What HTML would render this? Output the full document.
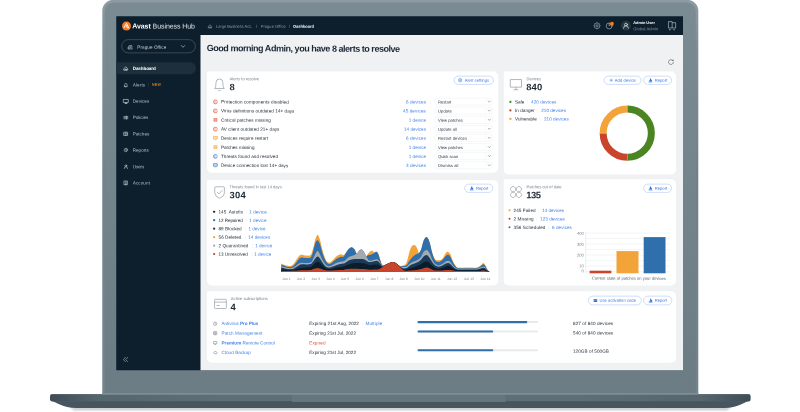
<!DOCTYPE html>
<html lang="en">
<head>
<meta charset="utf-8">
<title>Avast Business Hub</title>
<style>
html,body{margin:0;padding:0;background:#fff}
body{width:800px;height:412px;overflow:hidden;position:relative;font-family:"Liberation Sans",Arial,sans-serif}
#w{position:absolute;left:0;top:0;width:3200px;height:1648px;transform:scale(.25);transform-origin:0 0;overflow:hidden}
.b{position:absolute;box-sizing:border-box;display:block}
.t{position:absolute;white-space:nowrap;line-height:1;font-size:16.8px;transform:rotate(.25deg)}
.j{display:flex;justify-content:space-between;position:absolute}
.j span{display:block;white-space:nowrap;line-height:1;transform:rotate(.25deg)}
.t b{font-weight:700}
svg{overflow:visible}
</style>
</head>
<body>
<div id="w">
<svg class="b" style="left:0px;top:0px;width:3200px;height:1648px;" viewBox="0 0 800 412">
<defs>
<linearGradient id="lid" x1="0" y1="0" x2="0" y2="1"><stop offset="0" stop-color="#7b8b94"/><stop offset="1" stop-color="#6b7c85"/></linearGradient>
<linearGradient id="lide" x1="0" y1="0" x2="0" y2="1"><stop offset="0" stop-color="#8e9ba3"/><stop offset=".12" stop-color="#7e8d95"/><stop offset=".45" stop-color="#728189"/><stop offset="1" stop-color="#73838b"/></linearGradient>
<linearGradient id="base" x1="0" y1="0" x2="1" y2="0"><stop offset="0" stop-color="#3e4c55"/><stop offset=".07" stop-color="#56666f"/><stop offset=".25" stop-color="#5f6f78"/><stop offset=".75" stop-color="#5f6f78"/><stop offset=".93" stop-color="#56666f"/><stop offset="1" stop-color="#3e4c55"/></linearGradient>
<linearGradient id="sh" x1="0" y1="0" x2="0" y2="1"><stop offset="0" stop-color="#9aa3a8" stop-opacity=".75"/><stop offset="1" stop-color="#c8ccd0" stop-opacity="0"/></linearGradient>
<filter id="bl" x="-5%" y="-200%" width="110%" height="500%"><feGaussianBlur stdDeviation="1.2"/></filter>
</defs>
<path d="M70 407.4 H731 L727 410.2 H74 Z" fill="#7d878d" opacity=".5" filter="url(#bl)"/>
<path d="M102.3 394.5 V11 A11.2 11.2 0 0 1 113.5 -0.2 H687.1 A11.2 11.2 0 0 1 698.3 11 V394.5 Z" fill="url(#lide)"/>
<path d="M104.8 394.5 V11.3 A8.9 8.9 0 0 1 113.7 2.4 H686.9 A8.9 8.9 0 0 1 695.8 11.3 V394.5 Z" fill="url(#lid)"/>
<path d="M50.6 400 C56 402.6 63 407.6 76 408.1 H724.6 C737.6 407.6 744.6 402.6 750 400 Z" fill="#47555e"/>
<path d="M52.2 394.1 H748.4 Q750.6 394.1 750.6 396.3 V399.3 Q750.6 401.5 748.4 401.5 H52.2 Q50 401.5 50 399.3 V396.3 Q50 394.1 52.2 394.1 Z" fill="url(#base)"/>
<rect x="56" y="401" width="688.6" height="1.2" fill="#4a5962"/>
<rect x="292" y="394.6" width="213.5" height="7.4" fill="#66767f"/>
<rect x="102.3" y="393" width="596" height="1.7" fill="#7e8e96"/>
<rect x="51" y="394.1" width="698.6" height=".6" fill="#7e8e96" opacity=".5"/>
</svg>
<div class="b" style="left:464.8px;top:64.6px;width:2267.2px;height:1416.2px;background:#0d1e2c;"></div>
<div class="b" style="left:802px;top:140px;width:1930px;height:1340.8px;background:#eff1f3;"></div>
<svg class="b" style="left:487.6px;top:86px;width:36px;height:36px;" viewBox="0 0 9 9"><circle cx="4.5" cy="4.5" r="4.5" fill="#f47a20"/><path d="M4.4 1.7 L6.9 6.6 M3.6 3.1 L2.1 6.2 M4.3 4.0 L5.4 6.4" stroke="#fff" stroke-width="1.0" stroke-linecap="round" fill="none"/></svg>
<span class="t" id="t1" style="font-size:28px;top:91.16px;color:#fff;left:529.2px;letter-spacing:-0.28px;"><b>Avast</b> <span style="color:#dde2e6">Business Hub</span></span>
<div class="b" style="left:485.6px;top:158.4px;width:296.8px;height:53.2px;border-radius:28px;border:1.4px solid #c3cbd1;"></div>
<svg class="b" style="left:510.4px;top:176px;width:20px;height:22.4px;" viewBox="0 0 5 5.6"><path d="M1.6 5 V1.6 H4.4 V5 M0.6 5 V3 H1.6 M0.4 5 H4.8 M2.5 2.6 H3.5 M2.5 3.6 H3.5" stroke="#dfe4e8" stroke-width=".5" fill="none"/></svg>
<span class="t" id="t2" style="font-size:18.4px;top:179.84px;color:#cdd4da;left:549.2px;letter-spacing:0.32px;">Prague Office</span>
<svg class="b" style="left:722px;top:178.4px;width:20px;height:16px;" viewBox="0 0 5 4"><path d="M0.8 1 L2.5 2.8 L4.2 1" stroke="#dfe4e8" stroke-width=".55" fill="none" stroke-linecap="round" stroke-linejoin="round"/></svg>
<div class="b" style="left:464.8px;top:249.2px;width:319.2px;height:48px;background:#1e2f3c;border-radius:0 24px 24px 0;"></div>
<svg class="b" style="left:493.2px;top:263.4px;width:20.8px;height:20.8px;" viewBox="0 0 5 5"><g stroke="#e8ecef" stroke-width=".55" fill="none" stroke-linejoin="round" stroke-linecap="round"><path d="M0.8 2.6 L2.5 1 L4.2 2.6 V4.2 H0.8 Z M1.9 4.2 V3.2 H3.1 V4.2" /></g></svg>
<span class="t" id="t3" style="font-size:18.4px;top:265.24px;color:#fff;font-weight:700;left:530.8px;letter-spacing:-0.5px;">Dashboard</span>
<svg class="b" style="left:493.2px;top:328.8px;width:20.8px;height:20.8px;" viewBox="0 0 5 5"><g stroke="#c9d1d7" stroke-width=".55" fill="none" stroke-linejoin="round" stroke-linecap="round"><path d="M1.3 3.6 V2.4 A1.2 1.2 0 0 1 3.7 2.4 V3.6 L4 4 H1 Z M2.1 4.5 H2.9" /></g></svg>
<span class="t" id="t4" style="font-size:18.4px;top:330.64px;color:#b5bfc7;left:530.8px;letter-spacing:0.48px;">Alerts</span>
<svg class="b" style="left:491.6px;top:392.6px;width:24px;height:24px;" viewBox="0 0 5 5"><g stroke="#c9d1d7" stroke-width=".55" fill="none" stroke-linejoin="round" stroke-linecap="round"><path d="M0.6 1 H4.4 V3.5 H0.6 Z M1.7 4.4 H3.3 M2.5 3.5 V4.4" /></g></svg>
<span class="t" id="t5" style="font-size:18.4px;top:396.04px;color:#b5bfc7;left:530.8px;letter-spacing:0.07px;">Devices</span>
<svg class="b" style="left:493.2px;top:459.6px;width:20.8px;height:20.8px;" viewBox="0 0 5 5"><g stroke="#c9d1d7" stroke-width=".55" fill="none" stroke-linejoin="round" stroke-linecap="round"><path d="M0.6 1.4 H2.2 M0.6 2.5 H2.2 M0.6 3.6 H2.2 M3 1.4 H4.4 M3 2.5 H4.4 M3 3.6 H4.4 M3 1 V4" /></g></svg>
<span class="t" id="t6" style="font-size:18.4px;top:461.44px;color:#b5bfc7;left:530.8px;letter-spacing:-0.13px;">Policies</span>
<svg class="b" style="left:493.2px;top:525px;width:20.8px;height:20.8px;" viewBox="0 0 5 5"><g stroke="#c9d1d7" stroke-width=".55" fill="none" stroke-linejoin="round" stroke-linecap="round"><path d="M0.8 0.9 H4.2 V4.1 H0.8 Z M2.5 0.9 V4.1 M0.8 2.5 H4.2" /></g></svg>
<span class="t" id="t7" style="font-size:18.4px;top:526.84px;color:#b5bfc7;left:530.8px;letter-spacing:-0.08px;">Patches</span>
<svg class="b" style="left:493.2px;top:590.4px;width:20.8px;height:20.8px;" viewBox="0 0 5 5"><g stroke="#c9d1d7" stroke-width=".55" fill="none" stroke-linejoin="round" stroke-linecap="round"><path d="M2.5 2.5 V0.9 A1.6 1.6 0 1 0 4.1 2.5 Z M3.1 0.7 A1.5 1.5 0 0 1 4.3 1.9" /></g></svg>
<span class="t" id="t8" style="font-size:18.4px;top:592.24px;color:#b5bfc7;left:530.8px;letter-spacing:-0.01px;">Reports</span>
<svg class="b" style="left:493.2px;top:655.8px;width:20.8px;height:20.8px;" viewBox="0 0 5 5"><g stroke="#c9d1d7" stroke-width=".55" fill="none" stroke-linejoin="round" stroke-linecap="round"><circle cx="2.5" cy="1.7" r="0.9"/><path d="M0.9 4.4 A1.6 1.8 0 0 1 4.1 4.4" /></g></svg>
<span class="t" id="t9" style="font-size:18.4px;top:657.64px;color:#b5bfc7;left:530.8px;letter-spacing:-0.42px;">Users</span>
<svg class="b" style="left:493.2px;top:721.2px;width:20.8px;height:20.8px;" viewBox="0 0 5 5"><g stroke="#c9d1d7" stroke-width=".55" fill="none" stroke-linejoin="round" stroke-linecap="round"><path d="M1 0.7 H4 V4.3 H1 Z M1.9 1.7 H3.1 M1.9 2.7 H3.1 M2 4.3 V3.5 H3 V4.3" /></g></svg>
<span class="t" id="t10" style="font-size:18.4px;top:723.04px;color:#b5bfc7;left:530.8px;letter-spacing:0.38px;">Account</span>
<div class="b" style="left:594.8px;top:329.6px;width:1.4px;height:16.8px;background:#4a5a66;"></div>
<span class="t" id="t11" style="font-size:14px;top:330.96px;color:#f0801f;font-weight:700;left:608px;letter-spacing:1.09px;">NEW</span>
<svg class="b" style="left:491.2px;top:1427.2px;width:22.4px;height:22.4px;" viewBox="0 0 5.6 5.6"><path d="M2.6 0.6 L0.7 2.8 L2.6 5 M4.9 0.6 L3 2.8 L4.9 5" stroke="#b8c1c8" stroke-width=".55" fill="none" stroke-linecap="round" stroke-linejoin="round"/></svg>
<svg class="b" style="left:829.6px;top:94.8px;width:20px;height:20px;" viewBox="0 0 5 5"><path d="M0.8 2.6 L2.5 1 L4.2 2.6 V4.2 H0.8 Z M1.9 4.2 V3.2 H3.1 V4.2" stroke="#aab4bc" stroke-width=".5" fill="none" stroke-linejoin="round"/></svg>
<span class="t" id="t12" style="font-size:16px;top:97.92px;color:#93a0aa;left:864px;letter-spacing:0.01px;">Large Business Acc.</span>
<span class="t" id="t13" style="font-size:16px;top:97.92px;color:#93a0aa;left:1023.6px;">/</span>
<span class="t" id="t14" style="font-size:16px;top:97.92px;color:#93a0aa;left:1042.8px;letter-spacing:0.18px;">Prague Office</span>
<span class="t" id="t15" style="font-size:16px;top:97.92px;color:#93a0aa;left:1155.2px;">/</span>
<span class="t" id="t16" style="font-size:16px;top:97.92px;color:#fff;font-weight:700;left:1172.8px;letter-spacing:-0.14px;">Dashboard</span>
<svg class="b" style="left:2374.2px;top:89.4px;width:28px;height:28px;" viewBox="0 0 7 7"><g stroke="#c9d1d7" stroke-width=".5" fill="none" stroke-linejoin="round"><circle cx="3.5" cy="3.5" r="1.05" /><path d="M2.89 1.13 L3.08 0.38 L3.92 0.38 L4.11 1.13 L4.75 1.39 L5.41 1.00 L6.00 1.59 L5.61 2.25 L5.87 2.89 L6.62 3.08 L6.62 3.92 L5.87 4.11 L5.61 4.75 L6.00 5.41 L5.41 6.00 L4.75 5.61 L4.11 5.87 L3.92 6.62 L3.08 6.62 L2.89 5.87 L2.25 5.61 L1.59 6.00 L1.00 5.41 L1.39 4.75 L1.13 4.11 L0.38 3.92 L0.38 3.08 L1.13 2.89 L1.39 2.25 L1.00 1.59 L1.59 1.00 L2.25 1.39 Z"/></g></svg>
<svg class="b" style="left:2423.2px;top:87.2px;width:33.6px;height:32px;" viewBox="0 0 8.4 8"><g stroke="#c9d1d7" stroke-width=".55" fill="none" stroke-linecap="round"><circle cx="3.4" cy="4.2" r="2.95"/><path d="M3.4 1.6 V4.2 L5.3 2.4"/></g><circle cx="6.15" cy="2.0" r="1.95" fill="#f47a20"/></svg>
<svg class="b" style="left:2483.6px;top:82.6px;width:39.6px;height:39.6px;" viewBox="0 0 9.9 9.9"><circle cx="4.95" cy="4.95" r="4.95" fill="#26363f"/><g stroke="#e8ecef" stroke-width=".65" fill="none" stroke-linecap="round"><circle cx="4.95" cy="3.9" r="1.45"/><path d="M2.5 7.5 A2.45 2.6 0 0 1 7.4 7.5"/></g></svg>
<span class="t" id="t17" style="font-size:15.6px;top:83.32px;color:#fff;font-weight:700;left:2533.2px;letter-spacing:-0.08px;">Admin User</span>
<span class="t" id="t18" style="font-size:16.4px;top:107.32px;color:#85939e;left:2533.2px;letter-spacing:0.27px;">Global Admin</span>
<svg class="b" style="left:2671.2px;top:84px;width:33.6px;height:39.2px;" viewBox="0 0 8.4 9.8"><g stroke="#c9d1d7" stroke-width=".6" fill="none" stroke-linejoin="round"><path d="M0.7 0.6 H4.4 V7 H0.7 Z M4.4 1.7 H7.9 V7 H4.4"/></g><path d="M1.2 8.8 L2.2 8.1 V9.5 Z M7.2 8.8 L6.2 8.1 V9.5 Z" fill="#c9d1d7"/><path d="M2.2 8.8 H3.3 M5.1 8.8 H6.2" stroke="#c9d1d7" stroke-width=".45"/></svg>
<span class="t" id="t19" style="font-size:36px;top:175.72px;color:#1b2733;font-weight:700;left:826.8px;letter-spacing:-1.86px;">Good morning Admin, you have 8 alerts to resolve</span>
<svg class="b" style="left:2671.6px;top:235.6px;width:24px;height:24px;" viewBox="0 0 6 6"><path d="M4.9 1.5 A2.45 2.45 0 1 0 5.45 3.3" stroke="#4a5560" stroke-width=".6" fill="none" stroke-linecap="round"/><path d="M5.5 0.5 V2.1 H3.9 Z" fill="#4a5560"/></svg>
<div class="b" style="left:828.4px;top:286.4px;width:1164.4px;height:404.8px;background:#fff;border-radius:4px 19.2px 19.2px 19.2px;"></div>
<div class="b" style="left:2015.2px;top:286.4px;width:688.8px;height:411.2px;background:#fff;border-radius:4px 19.2px 19.2px 19.2px;"></div>
<div class="b" style="left:828.4px;top:720px;width:1164.4px;height:422px;background:#fff;border-radius:4px 19.2px 19.2px 19.2px;"></div>
<div class="b" style="left:2015.2px;top:716.8px;width:688.8px;height:425.2px;background:#fff;border-radius:4px 19.2px 19.2px 19.2px;"></div>
<div class="b" style="left:828.4px;top:1164.8px;width:1875.6px;height:286px;background:#fff;border-radius:4px 19.2px 19.2px 19.2px;"></div>
<svg class="b" style="left:855.2px;top:314.4px;width:45.6px;height:51.2px;" viewBox="0 0 11.4 12.8"><path d="M0.9 10 C2.6 8.4 1.9 5.6 2.3 4 A3.4 3.5 0 0 1 9.1 4 C9.5 5.6 8.8 8.4 10.5 10 Z M4.3 11.4 A1.5 1.2 0 0 0 7.1 11.4" stroke="#8a949c" stroke-width=".65" fill="none" stroke-linejoin="round"/></svg>
<span class="t" id="t20" style="font-size:16.4px;top:306.52px;color:#75818b;left:918px;letter-spacing:0.07px;">Alerts to resolve</span>
<span class="t" id="t21" style="font-size:37.6px;top:330.36px;color:#1b2733;font-weight:700;left:918px;letter-spacing:0.13px;">8</span>
<div class="b" style="left:1816px;top:304px;width:158.4px;height:34px;border-radius:20px;border:1.8px solid #3b7be6;"></div>
<svg class="b" style="left:1831.6px;top:312.4px;width:17.6px;height:17.6px;" viewBox="0 0 4.4 4.4"><g stroke="#2f6fdf" stroke-width=".5" fill="none"><circle cx="2.2" cy="2.2" r="1.7"/><circle cx="2.2" cy="2.2" r=".6"/></g></svg>
<span class="t" id="t22" style="font-size:16.4px;top:312.52px;color:#2f6fdf;left:1859.2px;letter-spacing:0.2px;">Alert settings</span>
<svg class="b" style="left:852.2px;top:397.6px;width:19.2px;height:19.2px;" viewBox="0 0 4.4 4.4"><circle cx="2.2" cy="2.2" r="1.75" fill="#e76a58" fill-opacity=".3" stroke="#e76a58" stroke-width=".7"/><path d="M2.2 2.2 L3.7 1.0 A1.9 1.9 0 0 1 3.8 3.3 Z" fill="#fff" fill-opacity=".55"/></svg>
<span class="t" id="t23" style="font-size:18.4px;top:398.84px;color:#1d2935;left:884px;letter-spacing:0.33px;">Protection components disabled</span>
<span class="t" id="t24" style="font-size:18.4px;top:398.84px;color:#3f7fe6;right:1496px;letter-spacing:0.29px;">6 devices</span>
<div class="b" style="left:1737.6px;top:391.8px;width:234.8px;height:29.2px;background:#fff;border-radius:16px;border:1.4px solid #d9dee3;"></div>
<div class="b" style="left:1941.2px;top:393px;width:1.2px;height:26.8px;background:#e6e9ec;"></div>
<span class="t" id="t25" style="font-size:16.4px;top:399.92px;color:#27323d;left:1752px;letter-spacing:0.04px;">Restart</span>
<svg class="b" style="left:1950px;top:401px;width:14.4px;height:11.2px;" viewBox="0 0 3.6 2.8"><path d="M.7 .75 L1.8 1.95 L2.9 .75" stroke="#5d6872" stroke-width=".5" fill="none" stroke-linecap="round" stroke-linejoin="round"/></svg>
<svg class="b" style="left:852.2px;top:433.96px;width:19.2px;height:19.2px;" viewBox="0 0 4.4 4.4"><circle cx="2.2" cy="2.2" r="1.75" fill="#e76a58" fill-opacity=".3" stroke="#e76a58" stroke-width=".7"/><path d="M2.2 2.2 L3.7 1.0 A1.9 1.9 0 0 1 3.8 3.3 Z" fill="#fff" fill-opacity=".55"/></svg>
<span class="t" id="t26" style="font-size:18.4px;top:435.2px;color:#1d2935;left:884px;letter-spacing:0.21px;">Virus definitions outdated 14+ days</span>
<span class="t" id="t27" style="font-size:18.4px;top:435.2px;color:#3f7fe6;right:1496px;letter-spacing:0.4px;">45 devices</span>
<div class="b" style="left:1737.6px;top:428.16px;width:234.8px;height:29.2px;background:#fff;border-radius:16px;border:1.4px solid #d9dee3;"></div>
<div class="b" style="left:1941.2px;top:429.36px;width:1.2px;height:26.8px;background:#e6e9ec;"></div>
<span class="t" id="t28" style="font-size:16.4px;top:436.28px;color:#27323d;left:1752px;letter-spacing:0.38px;">Update</span>
<svg class="b" style="left:1950px;top:437.36px;width:14.4px;height:11.2px;" viewBox="0 0 3.6 2.8"><path d="M.7 .75 L1.8 1.95 L2.9 .75" stroke="#5d6872" stroke-width=".5" fill="none" stroke-linecap="round" stroke-linejoin="round"/></svg>
<svg class="b" style="left:852.2px;top:470.32px;width:19.2px;height:19.2px;" viewBox="0 0 4.4 4.4"><rect x=".4" y=".4" width="3.6" height="3.6" rx=".7" fill="#e76a58" opacity=".8"/><path d="M2.2 .5 V3.9 M.5 2.2 H3.9" stroke="#fff" stroke-width=".35" opacity=".6"/><!--#e76a58--></svg>
<span class="t" id="t29" style="font-size:18.4px;top:471.56px;color:#1d2935;left:884px;letter-spacing:0.28px;">Critical patches missing</span>
<span class="t" id="t30" style="font-size:18.4px;top:471.56px;color:#3f7fe6;right:1496px;letter-spacing:0.08px;">1 device</span>
<div class="b" style="left:1737.6px;top:464.52px;width:234.8px;height:29.2px;background:#fff;border-radius:16px;border:1.4px solid #d9dee3;"></div>
<div class="b" style="left:1941.2px;top:465.72px;width:1.2px;height:26.8px;background:#e6e9ec;"></div>
<span class="t" id="t31" style="font-size:16.4px;top:472.64px;color:#27323d;left:1752px;letter-spacing:0.2px;">View patches</span>
<svg class="b" style="left:1950px;top:473.72px;width:14.4px;height:11.2px;" viewBox="0 0 3.6 2.8"><path d="M.7 .75 L1.8 1.95 L2.9 .75" stroke="#5d6872" stroke-width=".5" fill="none" stroke-linecap="round" stroke-linejoin="round"/></svg>
<svg class="b" style="left:852.2px;top:506.68px;width:19.2px;height:19.2px;" viewBox="0 0 4.4 4.4"><circle cx="2.2" cy="2.2" r="1.75" fill="#e76a58" fill-opacity=".3" stroke="#e76a58" stroke-width=".7"/><path d="M2.2 2.2 L3.7 1.0 A1.9 1.9 0 0 1 3.8 3.3 Z" fill="#fff" fill-opacity=".55"/></svg>
<span class="t" id="t32" style="font-size:18.4px;top:507.92px;color:#1d2935;left:884px;letter-spacing:0.21px;">AV client outdated 21+ days</span>
<span class="t" id="t33" style="font-size:18.4px;top:507.92px;color:#3f7fe6;right:1496px;letter-spacing:-0px;">14 devices</span>
<div class="b" style="left:1737.6px;top:500.88px;width:234.8px;height:29.2px;background:#fff;border-radius:16px;border:1.4px solid #d9dee3;"></div>
<div class="b" style="left:1941.2px;top:502.08px;width:1.2px;height:26.8px;background:#e6e9ec;"></div>
<span class="t" id="t34" style="font-size:16.4px;top:509px;color:#27323d;left:1752px;letter-spacing:0.17px;">Update all</span>
<svg class="b" style="left:1950px;top:510.08px;width:14.4px;height:11.2px;" viewBox="0 0 3.6 2.8"><path d="M.7 .75 L1.8 1.95 L2.9 .75" stroke="#5d6872" stroke-width=".5" fill="none" stroke-linecap="round" stroke-linejoin="round"/></svg>
<svg class="b" style="left:852.2px;top:543.04px;width:19.2px;height:19.2px;" viewBox="0 0 4.4 4.4"><path d="M.5 .6 H3.9 V3.0 H.5 Z" fill="#f3ab4c" fill-opacity=".25" stroke="#f3ab4c" stroke-width=".7" stroke-linejoin="round"/><path d="M1.3 3.9 H3.1" stroke="#888" stroke-width=".5" opacity=".5"/></svg>
<span class="t" id="t35" style="font-size:18.4px;top:544.28px;color:#1d2935;left:884px;letter-spacing:0.16px;">Devices require restart</span>
<span class="t" id="t36" style="font-size:18.4px;top:544.28px;color:#3f7fe6;right:1496px;letter-spacing:0.29px;">6 devices</span>
<div class="b" style="left:1737.6px;top:537.24px;width:234.8px;height:29.2px;background:#fff;border-radius:16px;border:1.4px solid #d9dee3;"></div>
<div class="b" style="left:1941.2px;top:538.44px;width:1.2px;height:26.8px;background:#e6e9ec;"></div>
<span class="t" id="t37" style="font-size:16.4px;top:545.36px;color:#27323d;left:1752px;letter-spacing:0.2px;">Restart devices</span>
<svg class="b" style="left:1950px;top:546.44px;width:14.4px;height:11.2px;" viewBox="0 0 3.6 2.8"><path d="M.7 .75 L1.8 1.95 L2.9 .75" stroke="#5d6872" stroke-width=".5" fill="none" stroke-linecap="round" stroke-linejoin="round"/></svg>
<svg class="b" style="left:852.2px;top:579.4px;width:19.2px;height:19.2px;" viewBox="0 0 4.4 4.4"><rect x=".4" y=".4" width="3.6" height="3.6" rx=".7" fill="#f3ab4c" opacity=".8"/><path d="M2.2 .5 V3.9 M.5 2.2 H3.9" stroke="#fff" stroke-width=".35" opacity=".6"/><!--#f3ab4c--></svg>
<span class="t" id="t38" style="font-size:18.4px;top:580.64px;color:#1d2935;left:884px;letter-spacing:0px;">Patches missing</span>
<span class="t" id="t39" style="font-size:18.4px;top:580.64px;color:#3f7fe6;right:1496px;letter-spacing:0.08px;">1 device</span>
<div class="b" style="left:1737.6px;top:573.6px;width:234.8px;height:29.2px;background:#fff;border-radius:16px;border:1.4px solid #d9dee3;"></div>
<div class="b" style="left:1941.2px;top:574.8px;width:1.2px;height:26.8px;background:#e6e9ec;"></div>
<span class="t" id="t40" style="font-size:16.4px;top:581.72px;color:#27323d;left:1752px;letter-spacing:0.2px;">View patches</span>
<svg class="b" style="left:1950px;top:582.8px;width:14.4px;height:11.2px;" viewBox="0 0 3.6 2.8"><path d="M.7 .75 L1.8 1.95 L2.9 .75" stroke="#5d6872" stroke-width=".5" fill="none" stroke-linecap="round" stroke-linejoin="round"/></svg>
<svg class="b" style="left:852.2px;top:615.76px;width:19.2px;height:19.2px;" viewBox="0 0 4.4 4.4"><circle cx="2.2" cy="2.2" r="1.75" fill="#4f88d6" fill-opacity=".3" stroke="#4f88d6" stroke-width=".7"/><path d="M2.2 2.2 L3.7 1.0 A1.9 1.9 0 0 1 3.8 3.3 Z" fill="#fff" fill-opacity=".55"/></svg>
<span class="t" id="t41" style="font-size:18.4px;top:617px;color:#1d2935;left:884px;letter-spacing:0.16px;">Threats found and resolved</span>
<span class="t" id="t42" style="font-size:18.4px;top:617px;color:#3f7fe6;right:1496px;letter-spacing:0.08px;">1 device</span>
<div class="b" style="left:1737.6px;top:609.96px;width:234.8px;height:29.2px;background:#fff;border-radius:16px;border:1.4px solid #d9dee3;"></div>
<div class="b" style="left:1941.2px;top:611.16px;width:1.2px;height:26.8px;background:#e6e9ec;"></div>
<span class="t" id="t43" style="font-size:16.4px;top:618.08px;color:#27323d;left:1752px;letter-spacing:-0.12px;">Quick scan</span>
<svg class="b" style="left:1950px;top:619.16px;width:14.4px;height:11.2px;" viewBox="0 0 3.6 2.8"><path d="M.7 .75 L1.8 1.95 L2.9 .75" stroke="#5d6872" stroke-width=".5" fill="none" stroke-linecap="round" stroke-linejoin="round"/></svg>
<svg class="b" style="left:852.2px;top:652.12px;width:19.2px;height:19.2px;" viewBox="0 0 4.4 4.4"><path d="M.5 .6 H3.9 V3.0 H.5 Z" fill="#4f88d6" fill-opacity=".25" stroke="#4f88d6" stroke-width=".7" stroke-linejoin="round"/><path d="M1.3 3.9 H3.1" stroke="#888" stroke-width=".5" opacity=".5"/></svg>
<span class="t" id="t44" style="font-size:18.4px;top:653.36px;color:#1d2935;left:884px;letter-spacing:0.16px;">Device connection lost 14+ days</span>
<span class="t" id="t45" style="font-size:18.4px;top:653.36px;color:#3f7fe6;right:1496px;letter-spacing:0.29px;">3 devices</span>
<div class="b" style="left:1737.6px;top:646.32px;width:234.8px;height:29.2px;background:#fff;border-radius:16px;border:1.4px solid #d9dee3;"></div>
<div class="b" style="left:1941.2px;top:647.52px;width:1.2px;height:26.8px;background:#e6e9ec;"></div>
<span class="t" id="t46" style="font-size:16.4px;top:654.44px;color:#27323d;left:1752px;letter-spacing:0.33px;">Dismiss all</span>
<svg class="b" style="left:1950px;top:655.52px;width:14.4px;height:11.2px;" viewBox="0 0 3.6 2.8"><path d="M.7 .75 L1.8 1.95 L2.9 .75" stroke="#5d6872" stroke-width=".5" fill="none" stroke-linecap="round" stroke-linejoin="round"/></svg>
<svg class="b" style="left:2037.6px;top:315.2px;width:51.2px;height:46.4px;" viewBox="0 0 12.8 11.6"><path d="M.8 .8 H12 V8.4 H.8 Z M4 11 H8.8 M6.4 8.4 V11" stroke="#8a949c" stroke-width=".65" fill="none" stroke-linejoin="round"/></svg>
<span class="t" id="t47" style="font-size:16.4px;top:307.32px;color:#75818b;left:2105.6px;letter-spacing:0px;">Devices</span>
<span class="t" id="t48" style="font-size:37.6px;top:330.36px;color:#1b2733;font-weight:700;left:2104.8px;letter-spacing:0.38px;">840</span>
<div class="b" style="left:2416px;top:304px;width:148.8px;height:34px;border-radius:20px;border:1.8px solid #3b7be6;"></div>
<svg class="b" style="left:2437.6px;top:314px;width:13.6px;height:13.6px;" viewBox="0 0 3.4 3.4"><path d="M1.7 .1 V3.3 M.1 1.7 H3.3" stroke="#2f6fdf" stroke-width=".5"/></svg>
<span class="t" id="t49" style="font-size:16.4px;top:312.52px;color:#2f6fdf;left:2459.2px;letter-spacing:0.36px;">Add device</span>
<div class="b" style="left:2574px;top:304px;width:113.2px;height:34px;border-radius:20px;border:1.8px solid #3b7be6;"></div>
<svg class="b" style="left:2593.2px;top:311.6px;width:17.6px;height:17.6px;" viewBox="0 0 4 4"><path d="M0.2 3.7 H3.8" stroke="#2f6fdf" stroke-width=".5" fill="none"/><path d="M0.7 3.2 V2.2 H1.5 V0.5 H2.5 V1.6 H3.3 V3.2 Z" fill="#2f6fdf"/></svg>
<span class="t" id="t50" style="font-size:16.4px;top:312.52px;color:#2f6fdf;left:2619.2px;letter-spacing:0.12px;">Report</span>
<div class="b" style="left:2036.8px;top:402.8px;width:8.8px;height:8.8px;background:#4a8522;border-radius:8px;"></div>
<span class="t" id="t51" style="font-size:18.4px;top:399.44px;color:#1d2935;left:2060px;letter-spacing:-0.23px;">Safe</span>
<div class="b" style="left:2109.6px;top:400.4px;width:1.2px;height:17.6px;background:#dfe3e7;"></div>
<span class="t" id="t52" style="font-size:18.4px;top:399.44px;color:#3f7fe6;left:2124px;letter-spacing:0.34px;">420 devices</span>
<div class="b" style="left:2036.8px;top:436.8px;width:8.8px;height:8.8px;background:#c8452c;border-radius:8px;"></div>
<span class="t" id="t53" style="font-size:18.4px;top:433.44px;color:#1d2935;left:2060px;letter-spacing:0.13px;">In danger</span>
<div class="b" style="left:2150.6px;top:434.4px;width:1.2px;height:17.6px;background:#dfe3e7;"></div>
<span class="t" id="t54" style="font-size:18.4px;top:433.44px;color:#3f7fe6;left:2165px;letter-spacing:0.07px;">210 devices</span>
<div class="b" style="left:2036.8px;top:470.8px;width:8.8px;height:8.8px;background:#f2a33a;border-radius:8px;"></div>
<span class="t" id="t55" style="font-size:18.4px;top:467.44px;color:#1d2935;left:2060px;letter-spacing:-0.03px;">Vulnerable</span>
<div class="b" style="left:2161.6px;top:468.4px;width:1.2px;height:17.6px;background:#dfe3e7;"></div>
<span class="t" id="t56" style="font-size:18.4px;top:467.44px;color:#3f7fe6;left:2176px;letter-spacing:0.07px;">210 devices</span>
<svg class="b" style="left:0px;top:0px;width:3200px;height:1648px;" viewBox="0 0 800 412"><path d="M627.25 109.05 A24.10 24.10 0 0 1 627.25 157.25" stroke="#4a8522" stroke-width="7.00" fill="none"/><path d="M627.25 157.25 A24.10 24.10 0 0 1 603.15 133.15" stroke="#c8452c" stroke-width="7.00" fill="none"/><path d="M603.15 133.15 A24.10 24.10 0 0 1 627.25 109.05" stroke="#f2a33a" stroke-width="7.00" fill="none"/><path d="M627.25 105.55 V112.55 M627.25 153.75 V160.75 M599.65 133.15 H606.65" stroke="#fff" stroke-width=".3" opacity=".5"/></svg>
<svg class="b" style="left:855.2px;top:743.2px;width:46.4px;height:53.6px;" viewBox="0 0 11.6 13.4"><path d="M1 1.8 Q1 1 1.8 1 H9.8 Q10.6 1 10.6 1.8 V7.6 Q10.6 10.4 5.8 12.6 Q1 10.4 1 7.6 Z M3.6 6.6 L5.2 8.2 L8.2 4.8" stroke="#8a949c" stroke-width=".65" fill="none" stroke-linejoin="round" stroke-linecap="round"/></svg>
<span class="t" id="t57" style="font-size:16.4px;top:739.32px;color:#75818b;left:918px;letter-spacing:-0.06px;">Threats found in last 14 days</span>
<span class="t" id="t58" style="font-size:37.6px;top:761.96px;color:#1b2733;font-weight:700;left:918px;letter-spacing:1.04px;">304</span>
<div class="b" style="left:1858.4px;top:736px;width:113.6px;height:34.4px;border-radius:20px;border:1.8px solid #3b7be6;"></div>
<svg class="b" style="left:1877.6px;top:744px;width:17.6px;height:17.6px;" viewBox="0 0 4 4"><path d="M0.2 3.7 H3.8" stroke="#2f6fdf" stroke-width=".5" fill="none"/><path d="M0.7 3.2 V2.2 H1.5 V0.5 H2.5 V1.6 H3.3 V3.2 Z" fill="#2f6fdf"/></svg>
<span class="t" id="t59" style="font-size:16.4px;top:744.92px;color:#2f6fdf;left:1903.6px;letter-spacing:0.12px;">Report</span>
<div class="b" style="left:852px;top:842.6px;width:8.8px;height:8.8px;background:#0b1c2b;border-radius:8px;"></div>
<span class="t" id="t60" style="font-size:18.4px;top:838.84px;color:#1d2935;left:874px;letter-spacing:0.15px;">145  Autofix</span>
<div class="b" style="left:985.8px;top:839.8px;width:1.2px;height:17.6px;background:#dfe3e7;"></div>
<span class="t" id="t61" style="font-size:18.4px;top:838.84px;color:#3f7fe6;left:997px;letter-spacing:0.18px;">1 device</span>
<div class="b" style="left:852px;top:876.4px;width:8.8px;height:8.8px;background:#2f6fab;border-radius:8px;"></div>
<span class="t" id="t62" style="font-size:18.4px;top:872.64px;color:#1d2935;left:874px;letter-spacing:-0.3px;">12 Repaired</span>
<div class="b" style="left:985.8px;top:873.6px;width:1.2px;height:17.6px;background:#dfe3e7;"></div>
<span class="t" id="t63" style="font-size:18.4px;top:872.64px;color:#3f7fe6;left:997px;letter-spacing:0.05px;">1 device</span>
<div class="b" style="left:852px;top:910.2px;width:8.8px;height:8.8px;background:#1b3a5a;border-radius:8px;"></div>
<span class="t" id="t64" style="font-size:18.4px;top:906.44px;color:#1d2935;left:874px;letter-spacing:0.19px;">89 Blocked</span>
<div class="b" style="left:982.8px;top:907.4px;width:1.2px;height:17.6px;background:#dfe3e7;"></div>
<span class="t" id="t65" style="font-size:18.4px;top:906.44px;color:#3f7fe6;left:994px;letter-spacing:-0.07px;">1 device</span>
<div class="b" style="left:852px;top:944px;width:8.8px;height:8.8px;background:#f2a33a;border-radius:8px;"></div>
<span class="t" id="t66" style="font-size:18.4px;top:940.24px;color:#1d2935;left:874px;letter-spacing:0.3px;">56 Deleted</span>
<div class="b" style="left:981.8px;top:941.2px;width:1.2px;height:17.6px;background:#dfe3e7;"></div>
<span class="t" id="t67" style="font-size:18.4px;top:940.24px;color:#3f7fe6;left:993px;letter-spacing:-0px;">14 devices</span>
<div class="b" style="left:852px;top:977.8px;width:8.8px;height:8.8px;background:#a3abb1;border-radius:8px;"></div>
<span class="t" id="t68" style="font-size:18.4px;top:974.04px;color:#1d2935;left:874px;letter-spacing:0.26px;">2 Quarantined</span>
<div class="b" style="left:1009.8px;top:975px;width:1.2px;height:17.6px;background:#dfe3e7;"></div>
<span class="t" id="t69" style="font-size:18.4px;top:974.04px;color:#3f7fe6;left:1021px;letter-spacing:-0.07px;">1 device</span>
<div class="b" style="left:852px;top:1011.6px;width:8.8px;height:8.8px;background:#c8452c;border-radius:8px;"></div>
<span class="t" id="t70" style="font-size:18.4px;top:1007.84px;color:#1d2935;left:874px;letter-spacing:-0.13px;">13 Unresolved</span>
<div class="b" style="left:1005.8px;top:1008.8px;width:1.2px;height:17.6px;background:#dfe3e7;"></div>
<span class="t" id="t71" style="font-size:18.4px;top:1007.84px;color:#3f7fe6;left:1017px;letter-spacing:-0.07px;">1 device</span>
<svg class="b" style="left:0px;top:0px;width:3200px;height:1648px;" viewBox="0 0 800 412"><path d="M281.30 263.50 C282.08 263.82 284.68 265.13 286.20 265.50 C287.72 265.87 289.50 266.22 290.80 265.80 C292.10 265.38 292.99 264.47 294.30 262.90 C295.61 261.33 297.78 257.30 299.00 256.00 C300.22 254.70 300.78 254.86 301.90 254.80 C303.02 254.74 304.61 255.57 306.00 255.60 C307.39 255.63 309.50 256.06 310.60 255.00 C311.70 253.94 312.15 251.46 312.90 249.00 C313.65 246.54 314.55 241.87 315.30 239.60 C316.05 237.33 316.86 234.80 317.60 234.80 C318.34 234.80 319.07 236.96 319.90 239.60 C320.73 242.24 321.87 248.13 322.80 251.30 C323.73 254.47 324.76 257.59 325.70 259.40 C326.64 261.21 327.76 262.31 328.70 262.60 C329.64 262.89 330.40 262.18 331.60 261.20 C332.80 260.22 334.81 257.62 336.20 256.50 C337.59 255.38 339.12 254.46 340.30 254.20 C341.48 253.94 342.72 255.09 343.60 254.90 C344.48 254.71 344.98 253.94 345.80 253.00 C346.62 252.06 347.77 249.93 348.70 249.00 C349.63 248.07 350.66 247.12 351.60 247.20 C352.54 247.28 353.78 248.48 354.60 249.50 C355.42 250.52 355.96 253.41 356.70 253.60 C357.44 253.79 358.43 251.36 359.20 250.70 C359.97 250.04 360.75 249.31 361.50 249.50 C362.25 249.69 363.15 250.86 363.90 251.90 C364.65 252.94 365.64 255.58 366.20 256.00 C366.76 256.42 366.94 255.06 367.40 254.50 C367.86 253.94 368.36 253.16 369.10 252.50 C369.84 251.84 371.15 250.40 372.00 250.40 C372.85 250.40 373.65 252.26 374.40 252.50 C375.15 252.74 376.06 251.66 376.70 251.90 C377.34 252.14 377.84 252.74 378.40 254.00 C378.96 255.26 379.64 258.18 380.20 259.80 C380.76 261.42 381.34 263.19 381.90 264.10 C382.46 265.01 382.95 265.47 383.70 265.50 C384.45 265.53 385.58 264.75 386.60 264.30 C387.62 263.85 389.08 263.05 390.10 262.70 C391.12 262.35 392.07 262.02 393.00 262.10 C393.93 262.18 394.88 262.61 395.90 263.20 C396.92 263.79 398.28 265.43 399.40 265.80 C400.52 266.17 401.88 265.77 402.90 265.50 C403.92 265.23 405.06 265.08 405.80 264.10 C406.54 263.12 406.94 261.26 407.50 259.40 C408.06 257.54 408.64 254.55 409.30 252.50 C409.96 250.45 410.77 247.78 411.60 246.60 C412.43 245.42 413.65 244.91 414.50 245.10 C415.35 245.29 416.18 246.54 416.90 247.80 C417.62 249.06 418.30 252.81 419.00 253.00 C419.70 253.19 420.56 250.95 421.30 249.00 C422.04 247.05 422.75 242.70 423.60 240.80 C424.45 238.90 425.66 236.91 426.60 237.10 C427.54 237.29 428.57 239.41 429.50 242.00 C430.43 244.59 431.47 250.52 432.40 253.30 C433.33 256.08 434.28 258.28 435.30 259.40 C436.32 260.52 437.68 260.38 438.80 260.30 C439.92 260.22 441.18 260.07 442.30 258.90 C443.42 257.73 444.87 254.12 445.80 253.00 C446.73 251.88 447.36 251.71 448.10 251.90 C448.84 252.09 449.57 252.62 450.40 254.20 C451.23 255.78 452.37 259.85 453.30 261.80 C454.23 263.75 455.35 265.47 456.20 266.40 C457.05 267.33 456.36 267.41 458.60 267.60 C460.84 267.79 467.22 267.63 470.20 267.60 C473.18 267.57 475.52 267.77 477.20 267.40 C478.88 267.03 479.72 266.02 480.70 265.30 C481.68 264.58 482.55 262.90 483.30 262.90 C484.05 262.90 484.70 264.18 485.40 265.30 C486.10 266.42 487.04 268.84 487.70 269.90 C488.36 270.96 489.21 271.58 489.50 271.90 L489.50 272.00 L281.30 272.00 Z" fill="#f2a33a"/><path d="M281.30 264.50 C282.08 264.82 284.68 266.10 286.20 266.50 C287.72 266.90 289.50 267.24 290.80 267.00 C292.10 266.76 292.99 266.28 294.30 265.00 C295.61 263.72 297.78 260.20 299.00 259.00 C300.22 257.80 300.78 257.66 301.90 257.50 C303.02 257.34 304.61 258.00 306.00 258.00 C307.39 258.00 309.50 258.46 310.60 257.50 C311.70 256.54 312.15 254.32 312.90 252.00 C313.65 249.68 314.55 244.89 315.30 243.00 C316.05 241.11 316.86 240.04 317.60 240.20 C318.34 240.36 319.07 241.79 319.90 244.00 C320.73 246.21 321.87 251.28 322.80 254.00 C323.73 256.72 324.76 259.40 325.70 261.00 C326.64 262.60 327.76 263.68 328.70 264.00 C329.64 264.32 330.40 263.80 331.60 263.00 C332.80 262.20 334.81 259.96 336.20 259.00 C337.59 258.04 339.12 257.38 340.30 257.00 C341.48 256.62 342.72 257.24 343.60 256.60 C344.48 255.96 344.98 254.22 345.80 253.00 C346.62 251.78 347.77 249.93 348.70 249.00 C349.63 248.07 350.66 247.12 351.60 247.20 C352.54 247.28 353.78 248.48 354.60 249.50 C355.42 250.52 355.96 253.41 356.70 253.60 C357.44 253.79 358.43 251.36 359.20 250.70 C359.97 250.04 360.75 249.31 361.50 249.50 C362.25 249.69 363.15 250.86 363.90 251.90 C364.65 252.94 365.64 255.42 366.20 256.00 C366.76 256.58 366.94 255.66 367.40 255.50 C367.86 255.34 368.36 255.21 369.10 255.00 C369.84 254.79 371.15 254.55 372.00 254.20 C372.85 253.85 373.65 253.17 374.40 252.80 C375.15 252.43 376.06 251.68 376.70 251.90 C377.34 252.12 377.84 252.90 378.40 254.20 C378.96 255.50 379.64 258.32 380.20 260.00 C380.76 261.68 381.34 263.77 381.90 264.70 C382.46 265.63 382.95 265.86 383.70 265.80 C384.45 265.74 385.58 264.80 386.60 264.30 C387.62 263.80 389.08 263.05 390.10 262.70 C391.12 262.35 392.07 262.02 393.00 262.10 C393.93 262.18 394.88 262.58 395.90 263.20 C396.92 263.82 398.28 265.52 399.40 266.00 C400.52 266.48 401.88 266.23 402.90 266.20 C403.92 266.17 405.06 266.15 405.80 265.80 C406.54 265.45 406.94 264.77 407.50 264.00 C408.06 263.23 408.64 261.96 409.30 261.00 C409.96 260.04 410.77 258.93 411.60 258.00 C412.43 257.07 413.65 255.84 414.50 255.20 C415.35 254.56 416.18 254.35 416.90 254.00 C417.62 253.65 418.30 253.80 419.00 253.00 C419.70 252.20 420.56 250.95 421.30 249.00 C422.04 247.05 422.75 242.70 423.60 240.80 C424.45 238.90 425.66 236.91 426.60 237.10 C427.54 237.29 428.57 239.36 429.50 242.00 C430.43 244.64 431.47 250.62 432.40 253.60 C433.33 256.58 434.28 259.26 435.30 260.60 C436.32 261.94 437.68 262.10 438.80 262.00 C439.92 261.90 441.18 260.96 442.30 260.00 C443.42 259.04 444.87 256.83 445.80 256.00 C446.73 255.17 447.36 254.66 448.10 254.80 C448.84 254.94 449.57 255.60 450.40 256.90 C451.23 258.20 452.37 261.28 453.30 262.90 C454.23 264.52 455.35 266.15 456.20 267.00 C457.05 267.85 456.36 268.01 458.60 268.20 C460.84 268.39 467.22 268.23 470.20 268.20 C473.18 268.17 475.52 268.32 477.20 268.00 C478.88 267.68 479.72 266.79 480.70 266.20 C481.68 265.61 482.55 264.30 483.30 264.30 C484.05 264.30 484.70 265.26 485.40 266.20 C486.10 267.14 487.04 269.29 487.70 270.20 C488.36 271.11 489.21 271.63 489.50 271.90 L489.50 272.00 L281.30 272.00 Z" fill="#2f6fab"/><path d="M281.30 266.20 C282.08 266.42 284.68 267.28 286.20 267.60 C287.72 267.92 289.50 268.30 290.80 268.20 C292.10 268.10 292.99 267.75 294.30 267.00 C295.61 266.25 297.78 264.19 299.00 263.50 C300.22 262.81 300.78 262.78 301.90 262.70 C303.02 262.62 304.61 263.02 306.00 263.00 C307.39 262.98 309.50 263.18 310.60 262.60 C311.70 262.02 312.15 260.74 312.90 259.40 C313.65 258.06 314.55 255.54 315.30 254.20 C316.05 252.86 316.86 251.00 317.60 251.00 C318.34 251.00 319.07 252.66 319.90 254.20 C320.73 255.74 321.87 258.92 322.80 260.60 C323.73 262.28 324.76 263.80 325.70 264.70 C326.64 265.60 327.76 266.07 328.70 266.20 C329.64 266.33 330.40 266.01 331.60 265.50 C332.80 264.99 334.81 263.59 336.20 263.00 C337.59 262.41 339.12 262.09 340.30 261.80 C341.48 261.51 342.72 261.49 343.60 261.20 C344.48 260.91 344.98 260.66 345.80 260.00 C346.62 259.34 347.77 257.74 348.70 257.10 C349.63 256.46 350.66 256.34 351.60 256.00 C352.54 255.66 353.78 255.38 354.60 255.00 C355.42 254.62 355.96 254.29 356.70 253.60 C357.44 252.91 358.43 251.36 359.20 250.70 C359.97 250.04 360.75 249.31 361.50 249.50 C362.25 249.69 363.15 250.86 363.90 251.90 C364.65 252.94 365.64 254.94 366.20 256.00 C366.76 257.06 366.94 257.76 367.40 258.50 C367.86 259.24 368.36 260.30 369.10 260.60 C369.84 260.90 371.15 260.53 372.00 260.40 C372.85 260.27 373.65 259.99 374.40 259.80 C375.15 259.61 376.06 259.17 376.70 259.20 C377.34 259.23 377.84 259.47 378.40 260.00 C378.96 260.53 379.64 261.67 380.20 262.50 C380.76 263.33 381.34 264.67 381.90 265.20 C382.46 265.73 382.95 265.94 383.70 265.80 C384.45 265.66 385.58 264.80 386.60 264.30 C387.62 263.80 389.08 263.05 390.10 262.70 C391.12 262.35 392.07 262.02 393.00 262.10 C393.93 262.18 394.88 262.58 395.90 263.20 C396.92 263.82 398.28 265.39 399.40 266.00 C400.52 266.61 401.88 266.84 402.90 267.00 C403.92 267.16 405.06 267.16 405.80 267.00 C406.54 266.84 406.94 266.48 407.50 266.00 C408.06 265.52 408.64 264.56 409.30 264.00 C409.96 263.44 410.77 262.95 411.60 262.50 C412.43 262.05 413.65 261.57 414.50 261.20 C415.35 260.83 416.18 260.55 416.90 260.20 C417.62 259.85 418.30 259.59 419.00 259.00 C419.70 258.41 420.56 257.64 421.30 256.50 C422.04 255.36 422.75 252.96 423.60 251.90 C424.45 250.84 425.66 249.72 426.60 249.90 C427.54 250.08 428.57 251.38 429.50 253.00 C430.43 254.62 431.47 258.22 432.40 260.00 C433.33 261.78 434.28 263.22 435.30 264.10 C436.32 264.98 437.68 265.50 438.80 265.50 C439.92 265.50 441.18 264.74 442.30 264.10 C443.42 263.46 444.87 262.00 445.80 261.50 C446.73 261.00 447.36 260.92 448.10 261.00 C448.84 261.08 449.57 261.23 450.40 262.00 C451.23 262.77 452.37 264.81 453.30 265.80 C454.23 266.79 455.35 267.72 456.20 268.20 C457.05 268.68 456.36 268.70 458.60 268.80 C460.84 268.90 467.22 268.80 470.20 268.80 C473.18 268.80 475.52 268.99 477.20 268.80 C478.88 268.61 479.72 267.98 480.70 267.60 C481.68 267.22 482.55 266.40 483.30 266.40 C484.05 266.40 484.70 266.94 485.40 267.60 C486.10 268.26 487.04 269.81 487.70 270.50 C488.36 271.19 489.21 271.68 489.50 271.90 L489.50 272.00 L281.30 272.00 Z" fill="#a3abb1"/><path d="M281.30 267.60 C282.08 267.79 284.68 268.56 286.20 268.80 C287.72 269.04 289.50 269.20 290.80 269.10 C292.10 269.00 292.99 268.81 294.30 268.20 C295.61 267.59 297.78 265.92 299.00 265.30 C300.22 264.68 300.78 264.44 301.90 264.30 C303.02 264.16 304.61 264.43 306.00 264.40 C307.39 264.37 309.50 264.52 310.60 264.10 C311.70 263.68 312.15 262.70 312.90 261.80 C313.65 260.90 314.55 259.35 315.30 258.50 C316.05 257.65 316.86 256.50 317.60 256.50 C318.34 256.50 319.07 257.46 319.90 258.50 C320.73 259.54 321.87 261.74 322.80 263.00 C323.73 264.26 324.76 265.66 325.70 266.40 C326.64 267.14 327.76 267.50 328.70 267.60 C329.64 267.70 330.40 267.37 331.60 267.00 C332.80 266.63 334.81 265.78 336.20 265.30 C337.59 264.82 339.12 264.29 340.30 264.00 C341.48 263.71 342.72 263.76 343.60 263.50 C344.48 263.24 344.98 262.86 345.80 262.40 C346.62 261.94 347.77 261.08 348.70 260.60 C349.63 260.12 350.66 259.66 351.60 259.40 C352.54 259.14 353.78 259.08 354.60 259.00 C355.42 258.92 355.96 258.92 356.70 258.90 C357.44 258.88 358.43 258.88 359.20 258.90 C359.97 258.92 360.75 258.95 361.50 259.00 C362.25 259.05 363.15 258.94 363.90 259.20 C364.65 259.46 365.64 260.26 366.20 260.60 C366.76 260.94 366.94 261.08 367.40 261.30 C367.86 261.52 368.36 261.92 369.10 262.00 C369.84 262.08 371.15 261.91 372.00 261.80 C372.85 261.69 373.65 261.46 374.40 261.30 C375.15 261.14 376.06 260.77 376.70 260.80 C377.34 260.83 377.84 261.07 378.40 261.50 C378.96 261.93 379.64 262.81 380.20 263.50 C380.76 264.19 381.34 265.43 381.90 265.80 C382.46 266.17 382.95 266.04 383.70 265.80 C384.45 265.56 385.58 264.80 386.60 264.30 C387.62 263.80 389.08 263.05 390.10 262.70 C391.12 262.35 392.07 262.02 393.00 262.10 C393.93 262.18 394.88 262.58 395.90 263.20 C396.92 263.82 398.28 265.20 399.40 266.00 C400.52 266.80 401.88 267.85 402.90 268.20 C403.92 268.55 405.06 268.31 405.80 268.20 C406.54 268.09 406.94 267.85 407.50 267.50 C408.06 267.15 408.64 266.48 409.30 266.00 C409.96 265.52 410.77 264.90 411.60 264.50 C412.43 264.10 413.65 263.80 414.50 263.50 C415.35 263.20 416.18 262.92 416.90 262.60 C417.62 262.28 418.30 262.00 419.00 261.50 C419.70 261.00 420.56 260.30 421.30 259.50 C422.04 258.70 422.75 257.22 423.60 256.50 C424.45 255.78 425.66 254.81 426.60 255.00 C427.54 255.19 428.57 256.52 429.50 257.70 C430.43 258.88 431.47 261.15 432.40 262.40 C433.33 263.65 434.28 264.81 435.30 265.50 C436.32 266.19 437.68 266.70 438.80 266.70 C439.92 266.70 441.18 266.01 442.30 265.50 C443.42 264.99 444.87 263.92 445.80 263.50 C446.73 263.08 447.36 262.84 448.10 262.90 C448.84 262.96 449.57 263.24 450.40 263.90 C451.23 264.56 452.37 266.18 453.30 267.00 C454.23 267.82 455.35 268.60 456.20 269.00 C457.05 269.40 456.36 269.42 458.60 269.50 C460.84 269.58 467.22 269.50 470.20 269.50 C473.18 269.50 475.52 269.66 477.20 269.50 C478.88 269.34 479.72 268.77 480.70 268.50 C481.68 268.23 482.55 267.80 483.30 267.80 C484.05 267.80 484.70 268.02 485.40 268.50 C486.10 268.98 487.04 270.26 487.70 270.80 C488.36 271.34 489.21 271.72 489.50 271.90 L489.50 272.00 L281.30 272.00 Z" fill="#1b3a5a"/><path d="M281.30 269.30 C282.08 269.40 284.68 269.76 286.20 269.90 C287.72 270.04 289.50 270.23 290.80 270.20 C292.10 270.17 292.99 270.02 294.30 269.70 C295.61 269.38 297.78 268.50 299.00 268.20 C300.22 267.90 300.78 267.93 301.90 267.80 C303.02 267.67 304.61 267.53 306.00 267.40 C307.39 267.27 309.50 267.34 310.60 267.00 C311.70 266.66 312.15 265.94 312.90 265.30 C313.65 264.66 314.55 263.56 315.30 263.00 C316.05 262.44 316.86 261.80 317.60 261.80 C318.34 261.80 319.07 262.36 319.90 263.00 C320.73 263.64 321.87 264.97 322.80 265.80 C323.73 266.63 324.76 267.69 325.70 268.20 C326.64 268.71 327.76 268.90 328.70 269.00 C329.64 269.10 330.40 269.02 331.60 268.80 C332.80 268.58 334.81 267.89 336.20 267.60 C337.59 267.31 339.12 267.19 340.30 267.00 C341.48 266.81 342.72 266.64 343.60 266.40 C344.48 266.16 344.98 265.80 345.80 265.50 C346.62 265.20 347.77 264.82 348.70 264.50 C349.63 264.18 350.66 263.71 351.60 263.50 C352.54 263.29 353.78 263.28 354.60 263.20 C355.42 263.12 355.96 263.03 356.70 263.00 C357.44 262.97 358.43 262.97 359.20 263.00 C359.97 263.03 360.75 263.15 361.50 263.20 C362.25 263.25 363.15 263.17 363.90 263.30 C364.65 263.43 365.64 263.81 366.20 264.00 C366.76 264.19 366.94 264.34 367.40 264.50 C367.86 264.66 368.36 264.95 369.10 265.00 C369.84 265.05 371.15 264.90 372.00 264.80 C372.85 264.70 373.65 264.45 374.40 264.40 C375.15 264.35 376.06 264.45 376.70 264.50 C377.34 264.55 377.84 264.46 378.40 264.70 C378.96 264.94 379.64 265.60 380.20 266.00 C380.76 266.40 381.34 267.23 381.90 267.20 C382.46 267.17 382.95 266.26 383.70 265.80 C384.45 265.34 385.58 264.80 386.60 264.30 C387.62 263.80 389.08 263.05 390.10 262.70 C391.12 262.35 392.07 262.02 393.00 262.10 C393.93 262.18 394.88 262.58 395.90 263.20 C396.92 263.82 398.28 265.02 399.40 266.00 C400.52 266.98 401.88 268.71 402.90 269.30 C403.92 269.89 405.06 269.70 405.80 269.70 C406.54 269.70 406.94 269.48 407.50 269.30 C408.06 269.12 408.64 268.84 409.30 268.60 C409.96 268.36 410.77 268.06 411.60 267.80 C412.43 267.54 413.65 267.29 414.50 267.00 C415.35 266.71 416.18 266.27 416.90 266.00 C417.62 265.73 418.30 265.62 419.00 265.30 C419.70 264.98 420.56 264.46 421.30 264.00 C422.04 263.54 422.75 262.80 423.60 262.40 C424.45 262.00 425.66 261.42 426.60 261.50 C427.54 261.58 428.57 262.21 429.50 262.90 C430.43 263.59 431.47 265.00 432.40 265.80 C433.33 266.60 434.28 267.42 435.30 267.90 C436.32 268.38 437.68 268.82 438.80 268.80 C439.92 268.78 441.18 268.18 442.30 267.80 C443.42 267.42 444.87 266.72 445.80 266.40 C446.73 266.08 447.36 265.75 448.10 265.80 C448.84 265.85 449.57 266.22 450.40 266.70 C451.23 267.18 452.37 268.29 453.30 268.80 C454.23 269.31 455.35 269.66 456.20 269.90 C457.05 270.14 456.36 270.24 458.60 270.30 C460.84 270.36 467.22 270.30 470.20 270.30 C473.18 270.30 475.52 270.40 477.20 270.30 C478.88 270.20 479.72 269.91 480.70 269.70 C481.68 269.49 482.55 269.00 483.30 269.00 C484.05 269.00 484.70 269.36 485.40 269.70 C486.10 270.04 487.04 270.75 487.70 271.10 C488.36 271.45 489.21 271.77 489.50 271.90 L489.50 272.00 L281.30 272.00 Z" fill="#0b1c2b"/><path d="M281.30 270.90 C282.08 270.92 284.68 270.98 286.20 271.00 C287.72 271.02 289.50 271.03 290.80 271.00 C292.10 270.97 292.99 270.88 294.30 270.80 C295.61 270.72 297.78 270.58 299.00 270.50 C300.22 270.42 300.78 270.35 301.90 270.30 C303.02 270.25 304.61 270.25 306.00 270.20 C307.39 270.15 309.50 270.16 310.60 270.00 C311.70 269.84 312.15 269.44 312.90 269.20 C313.65 268.96 314.55 268.69 315.30 268.50 C316.05 268.31 316.86 268.00 317.60 268.00 C318.34 268.00 319.07 268.26 319.90 268.50 C320.73 268.74 321.87 269.23 322.80 269.50 C323.73 269.77 324.76 270.06 325.70 270.20 C326.64 270.34 327.76 270.35 328.70 270.40 C329.64 270.45 330.40 270.52 331.60 270.50 C332.80 270.48 334.81 270.36 336.20 270.30 C337.59 270.24 339.12 270.15 340.30 270.10 C341.48 270.05 342.72 270.13 343.60 270.00 C344.48 269.87 344.98 269.46 345.80 269.30 C346.62 269.14 347.77 269.08 348.70 269.00 C349.63 268.92 350.66 268.83 351.60 268.80 C352.54 268.77 353.78 268.80 354.60 268.80 C355.42 268.80 355.96 268.78 356.70 268.80 C357.44 268.82 358.43 268.87 359.20 268.90 C359.97 268.93 360.75 268.98 361.50 269.00 C362.25 269.02 363.15 268.95 363.90 269.00 C364.65 269.05 365.64 269.22 366.20 269.30 C366.76 269.38 366.94 269.44 367.40 269.50 C367.86 269.56 368.36 269.67 369.10 269.70 C369.84 269.73 371.15 269.72 372.00 269.70 C372.85 269.68 373.65 269.63 374.40 269.60 C375.15 269.57 376.06 269.55 376.70 269.50 C377.34 269.45 377.84 269.46 378.40 269.30 C378.96 269.14 379.64 268.79 380.20 268.50 C380.76 268.21 381.34 267.93 381.90 267.50 C382.46 267.07 382.95 266.31 383.70 265.80 C384.45 265.29 385.58 264.80 386.60 264.30 C387.62 263.80 389.08 263.05 390.10 262.70 C391.12 262.35 392.07 262.02 393.00 262.10 C393.93 262.18 394.88 262.58 395.90 263.20 C396.92 263.82 398.28 264.94 399.40 266.00 C400.52 267.06 401.88 269.02 402.90 269.80 C403.92 270.58 405.06 270.74 405.80 270.90 C406.54 271.06 406.94 270.85 407.50 270.80 C408.06 270.75 408.64 270.66 409.30 270.60 C409.96 270.54 410.77 270.46 411.60 270.40 C412.43 270.34 413.65 270.26 414.50 270.20 C415.35 270.14 416.18 270.10 416.90 270.00 C417.62 269.90 418.30 269.76 419.00 269.60 C419.70 269.44 420.56 269.22 421.30 269.00 C422.04 268.78 422.75 268.42 423.60 268.20 C424.45 267.98 425.66 267.60 426.60 267.60 C427.54 267.60 428.57 267.86 429.50 268.20 C430.43 268.54 431.47 269.33 432.40 269.70 C433.33 270.07 434.28 270.37 435.30 270.50 C436.32 270.63 437.68 270.50 438.80 270.50 C439.92 270.50 441.18 270.56 442.30 270.50 C443.42 270.44 444.87 270.20 445.80 270.10 C446.73 270.00 447.36 269.90 448.10 269.90 C448.84 269.90 449.57 269.99 450.40 270.10 C451.23 270.21 452.37 270.47 453.30 270.60 C454.23 270.73 455.35 270.82 456.20 270.90 C457.05 270.98 456.36 271.07 458.60 271.10 C460.84 271.13 467.22 271.10 470.20 271.10 C473.18 271.10 475.52 271.13 477.20 271.10 C478.88 271.07 479.72 270.98 480.70 270.90 C481.68 270.82 482.55 270.60 483.30 270.60 C484.05 270.60 484.70 270.77 485.40 270.90 C486.10 271.03 487.04 271.24 487.70 271.40 C488.36 271.56 489.21 271.82 489.50 271.90 L489.50 272.00 L281.30 272.00 Z" fill="#c8452c"/></svg>
<div class="j" style="left:1128.8px;top:1109.2px;width:832.8px;font-size:13.6px;color:#75818b"><span>Jun 1</span><span>Jun 2</span><span>Jun 3</span><span>Jun 4</span><span>Jun 5</span><span>Jun 6</span><span>Jun 7</span><span>Jun 8</span><span>Jun 9</span><span>Jun 10</span><span>Jun 11</span><span>Jun 12</span><span>Jun 13</span><span>Jun 14</span></div>
<svg class="b" style="left:2037.6px;top:742.4px;width:52px;height:52px;" viewBox="0 0 13 13"><g stroke="#8a949c" stroke-width=".6" fill="none"><rect x="1.2" y="1.2" width="5" height="5" rx="1.8" transform="rotate(45 3.7 3.7)"/><rect x="6.8" y="1.2" width="5" height="5" rx="1.8" transform="rotate(45 9.3 3.7)"/><rect x="1.2" y="6.8" width="5" height="5" rx="1.8" transform="rotate(45 3.7 9.3)"/><rect x="6.8" y="6.8" width="5" height="5" rx="1.8" transform="rotate(45 9.3 9.3)"/></g></svg>
<span class="t" id="t72" style="font-size:16.4px;top:739.32px;color:#75818b;left:2105.6px;letter-spacing:-0.05px;">Patches out of date</span>
<span class="t" id="t73" style="font-size:37.6px;top:761.96px;color:#1b2733;font-weight:700;left:2104.8px;letter-spacing:-1.76px;">135</span>
<div class="b" style="left:2574px;top:736px;width:113.2px;height:34.4px;border-radius:20px;border:1.8px solid #3b7be6;"></div>
<svg class="b" style="left:2593.2px;top:744px;width:17.6px;height:17.6px;" viewBox="0 0 4 4"><path d="M0.2 3.7 H3.8" stroke="#2f6fdf" stroke-width=".5" fill="none"/><path d="M0.7 3.2 V2.2 H1.5 V0.5 H2.5 V1.6 H3.3 V3.2 Z" fill="#2f6fdf"/></svg>
<span class="t" id="t74" style="font-size:16.4px;top:744.92px;color:#2f6fdf;left:2619.2px;letter-spacing:0.12px;">Report</span>
<div class="b" style="left:2033.6px;top:836.6px;width:8.8px;height:8.8px;background:#f2a33a;border-radius:8px;"></div>
<span class="t" id="t75" style="font-size:18.4px;top:833.04px;color:#1d2935;left:2054px;letter-spacing:0.3px;">245 Failed</span>
<div class="b" style="left:2154.6px;top:834px;width:1.2px;height:17.6px;background:#dfe3e7;"></div>
<span class="t" id="t76" style="font-size:18.4px;top:833.04px;color:#3f7fe6;left:2169px;letter-spacing:-0.1px;">14 devices</span>
<div class="b" style="left:2033.6px;top:870.6px;width:8.8px;height:8.8px;background:#c8452c;border-radius:8px;"></div>
<span class="t" id="t77" style="font-size:18.4px;top:867.04px;color:#1d2935;left:2054px;letter-spacing:0.36px;">2 Missing</span>
<div class="b" style="left:2146.6px;top:868px;width:1.2px;height:17.6px;background:#dfe3e7;"></div>
<span class="t" id="t78" style="font-size:18.4px;top:867.04px;color:#3f7fe6;left:2161px;letter-spacing:-0.02px;">123 devices</span>
<div class="b" style="left:2033.6px;top:904.6px;width:8.8px;height:8.8px;background:#2f6fab;border-radius:8px;"></div>
<span class="t" id="t79" style="font-size:18.4px;top:901.04px;color:#1d2935;left:2054px;letter-spacing:0.4px;">356 Scheduled</span>
<div class="b" style="left:2193.6px;top:902px;width:1.2px;height:17.6px;background:#dfe3e7;"></div>
<span class="t" id="t80" style="font-size:18.4px;top:901.04px;color:#3f7fe6;left:2208px;letter-spacing:0.25px;">6 devices</span>
<svg class="b" style="left:0px;top:0px;width:3200px;height:1648px;" viewBox="0 0 800 412"><path d="M585.7 233.10 H669.6" stroke="#dde2e6" stroke-width=".35"/><path d="M585.7 238.59 H669.6" stroke="#dde2e6" stroke-width=".35"/><path d="M585.7 244.08 H669.6" stroke="#dde2e6" stroke-width=".35"/><path d="M585.7 249.57 H669.6" stroke="#dde2e6" stroke-width=".35"/><path d="M585.7 255.06 H669.6" stroke="#dde2e6" stroke-width=".35"/><path d="M585.7 260.55 H669.6" stroke="#dde2e6" stroke-width=".35"/><path d="M585.7 266.04 H669.6" stroke="#dde2e6" stroke-width=".35"/><path d="M585.7 271.53 H669.6" stroke="#dde2e6" stroke-width=".35"/><path d="M585.7 231.5 V273.3" stroke="#cfd5da" stroke-width=".4"/><rect x="589.6" y="270.7" width="21.8" height="2.6" fill="#c8452c"/><rect x="616.5" y="251.1" width="22" height="22.2" fill="#f2a33a"/><rect x="643.7" y="237.1" width="21.8" height="36.2" fill="#2f6fab"/></svg>
<span class="t" id="t81" style="font-size:16.4px;top:924.92px;color:#75818b;right:864.4px;">400</span>
<span class="t" id="t82" style="font-size:16.4px;top:968.52px;color:#75818b;right:864.4px;">300</span>
<span class="t" id="t83" style="font-size:16.4px;top:1012.12px;color:#75818b;right:864.4px;">200</span>
<span class="t" id="t84" style="font-size:16.4px;top:1054.92px;color:#75818b;right:864.4px;">10</span>
<span class="t" id="t85" style="font-size:16.4px;top:1075.32px;color:#75818b;right:864.4px;">0</span>
<span class="t" id="t86" style="font-size:16.4px;top:1104.52px;color:#55616b;left:2367.2px;letter-spacing:0.06px;">Current state of patches on your devices</span>
<svg class="b" style="left:855.2px;top:1194.4px;width:53.6px;height:43.2px;" viewBox="0 0 13.4 10.8"><path d="M1.6 .8 H11.8 Q12.6 .8 12.6 1.6 V9.2 Q12.6 10 11.8 10 H1.6 Q.8 10 .8 9.2 V1.6 Q.8 .8 1.6 .8 Z M.8 3.6 H12.6 M2.8 7 H6" stroke="#8a949c" stroke-width=".65" fill="none"/></svg>
<span class="t" id="t87" style="font-size:16.4px;top:1185.72px;color:#75818b;left:923px;letter-spacing:0.2px;">Active subscriptions</span>
<span class="t" id="t88" style="font-size:37.6px;top:1210.36px;color:#1b2733;font-weight:700;left:922px;letter-spacing:-1.07px;">4</span>
<div class="b" style="left:2352.8px;top:1184px;width:212.8px;height:35.6px;border-radius:20px;border:1.8px solid #3b7be6;"></div>
<svg class="b" style="left:2372.8px;top:1193.6px;width:17.6px;height:16px;" viewBox="0 0 4.4 4"><rect x=".4" y=".6" width="3.6" height="2.8" rx=".4" fill="#2f6fdf"/><path d="M.4 1.6 H4" stroke="#fff" stroke-width=".35"/></svg>
<span class="t" id="t89" style="font-size:16.4px;top:1193.32px;color:#2f6fdf;left:2398px;letter-spacing:0.15px;">Use activation code</span>
<div class="b" style="left:2574px;top:1184px;width:113.6px;height:35.6px;border-radius:20px;border:1.8px solid #3b7be6;"></div>
<svg class="b" style="left:2593.6px;top:1192.8px;width:17.6px;height:17.6px;" viewBox="0 0 4 4"><path d="M0.2 3.7 H3.8" stroke="#2f6fdf" stroke-width=".5" fill="none"/><path d="M0.7 3.2 V2.2 H1.5 V0.5 H2.5 V1.6 H3.3 V3.2 Z" fill="#2f6fdf"/></svg>
<span class="t" id="t90" style="font-size:16.4px;top:1193.32px;color:#2f6fdf;left:2619.2px;letter-spacing:0.06px;">Report</span>
<svg class="b" style="left:852.4px;top:1285.6px;width:17.6px;height:17.6px;" viewBox="0 0 4.4 4.4"><g stroke="#6b7680" stroke-width=".5" fill="none" stroke-linejoin="round"><circle cx="2.2" cy="2.2" r="1.7"/><path d="M2.2 1.2 V2.2 L3 2.8"/></g></svg>
<span class="t" id="t91" style="font-size:18.4px;top:1285.04px;color:#3f7fe6;left:886px;letter-spacing:-0.18px;">Antivirus <b>Pro Plus</b></span>
<span class="t" id="t92" style="font-size:18.4px;top:1285.04px;color:#1d2935;left:1237px;letter-spacing:0.2px;">Expiring 21st Aug, 2022</span>
<div class="b" style="left:1449.2px;top:1286px;width:1.2px;height:17.6px;background:#dfe3e7;"></div>
<span class="t" id="t93" style="font-size:18.4px;top:1285.04px;color:#3f7fe6;left:1462px;letter-spacing:0.57px;">Multiple</span>
<div class="b" style="left:1669.6px;top:1284.4px;width:483.2px;height:8px;background:#e8ebee;border-radius:4px;"></div>
<div class="b" style="left:1669.6px;top:1284.2px;width:439.24px;height:8.4px;background:#2f6fab;border-radius:4px;"></div>
<span class="t" id="t94" style="font-size:18.4px;top:1284.64px;color:#27323d;left:2292px;letter-spacing:0.35px;">827 of 840 devices</span>
<svg class="b" style="left:852.4px;top:1324.4px;width:17.6px;height:17.6px;" viewBox="0 0 4.4 4.4"><g stroke="#6b7680" stroke-width=".5" fill="none" stroke-linejoin="round"><rect x=".6" y=".6" width="3.2" height="3.2" rx=".4"/><path d="M2.2 .6 V3.8 M.6 2.2 H3.8"/></g></svg>
<span class="t" id="t95" style="font-size:18.4px;top:1323.84px;color:#3f7fe6;left:886px;letter-spacing:0.34px;">Patch Management</span>
<span class="t" id="t96" style="font-size:18.4px;top:1323.84px;color:#1d2935;left:1237px;letter-spacing:0.04px;">Expiring 21st Jul, 2022</span>
<div class="b" style="left:1669.6px;top:1322px;width:483.2px;height:8px;background:#e8ebee;border-radius:4px;"></div>
<div class="b" style="left:1669.6px;top:1321.8px;width:303.44px;height:8.4px;background:#2f6fab;border-radius:4px;"></div>
<span class="t" id="t97" style="font-size:18.4px;top:1323.44px;color:#27323d;left:2292px;letter-spacing:0.35px;">540 of 840 devices</span>
<svg class="b" style="left:852.4px;top:1363.2px;width:17.6px;height:17.6px;" viewBox="0 0 4.4 4.4"><g stroke="#6b7680" stroke-width=".5" fill="none" stroke-linejoin="round"><path d="M.5 .8 H3.9 V3 H.5 Z M1.4 3.8 H3"/></g></svg>
<span class="t" id="t98" style="font-size:18.4px;top:1362.64px;color:#3f7fe6;left:886px;letter-spacing:0.06px;"><b>Premium</b> Remote Control</span>
<span class="t" id="t99" style="font-size:18.4px;top:1362.64px;color:#d9513a;left:1237px;letter-spacing:0.51px;">Expired</span>
<svg class="b" style="left:852.4px;top:1401.2px;width:17.6px;height:17.6px;" viewBox="0 0 4.4 4.4"><g stroke="#6b7680" stroke-width=".5" fill="none" stroke-linejoin="round"><path d="M1.2 3.4 A1 1 0 0 1 1.3 1.6 A1.2 1.2 0 0 1 3.4 1.8 A.8 .8 0 0 1 3.4 3.4 Z"/></g></svg>
<span class="t" id="t100" style="font-size:18.4px;top:1400.64px;color:#3f7fe6;left:886px;letter-spacing:0.28px;">Cloud Backup</span>
<span class="t" id="t101" style="font-size:18.4px;top:1400.64px;color:#1d2935;left:1237px;letter-spacing:0.04px;">Expiring 21st Jul, 2022</span>
<div class="b" style="left:1669.6px;top:1397.2px;width:483.2px;height:8px;background:#e8ebee;border-radius:4px;"></div>
<div class="b" style="left:1669.6px;top:1397px;width:303.44px;height:8.4px;background:#2f6fab;border-radius:4px;"></div>
<span class="t" id="t102" style="font-size:18.4px;top:1396.24px;color:#27323d;left:2292px;letter-spacing:0.28px;">120GB of 500GB</span>
</div>
</body>
</html>
